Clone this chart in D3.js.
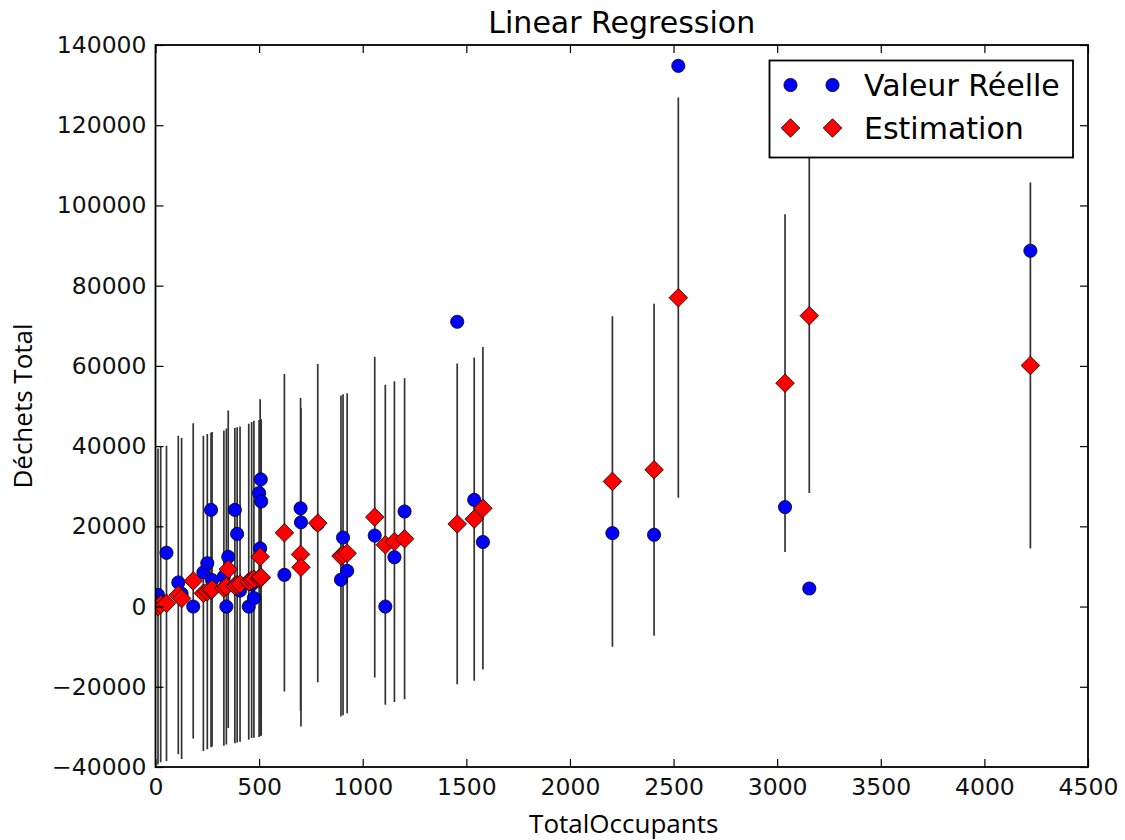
<!DOCTYPE html>
<html>
<head>
<meta charset="utf-8">
<script src="https://cdn.jsdelivr.net/npm/d3@7"></script>
<style>
  html, body { margin: 0; padding: 0; background: #fff; }
  svg { display: block; }
</style>
</head>
<body>
<svg id="chart" width="1125" height="840"></svg>
<script>
// ---- data ----
const occupants = [12, 25, 53, 110, 126, 182, 231, 250, 268, 273, 330, 342, 351, 383, 394, 408, 450, 464, 475, 500, 505, 508, 510,
  622, 700, 702, 783, 895, 905, 925, 1058, 1109, 1153, 1202, 1456, 1538, 1580, 2205, 2406, 2523, 3038, 3155, 4222];
const actual = [2900, 1200, 13400, 6000, 3200, 0, 8500, 10800, 24100, 6600, 7500, 0, 12400, 24100, 18100, 4000, 0, 5500, 2100, 28300, 14500, 31700, 26200,
  7900, 24500, 21000, 20600, 6700, 17200, 8900, 17700, 0, 12300, 23700, 71000, 26600, 16100, 18300, 17900, 134800, 24800, 4500, 88700];
const estimate = [0, 500, 800, 2900, 2000, 6400, 3300, 3700, 4100, 4300, 4600, 5000, 9300, 5200, 5400, 5600, 6200, 6600, 6800, 7000, 12400, 7100, 7300,
  18400, 13000, 9800, 20800, 12600, 12900, 13300, 22300, 15400, 16200, 16900, 20600, 21800, 24500, 31200, 34100, 77000, 55700, 72500, 60100];
const errHalf = [39400, 39300, 39300, 39700, 40000, 39300, 39300, 39300, 39200, 39200, 39300, 39400, 39600, 39300, 39300, 39300, 39400, 39400, 39500, 39500, 39300, 39400, 39400,
  39600, 39000, 39700, 39700, 40000, 40000, 39900, 40000, 39900, 40000, 40000, 40000, 40300, 40200, 41200, 41400, 49900, 42100, 44200, 45600];
const xTicks = [0, 500, 1000, 1500, 2000, 2500, 3000, 3500, 4000, 4500];
const yTicks = [-40000, -20000, 0, 20000, 40000, 60000, 80000, 100000, 120000, 140000];
const seriesNames = ["Valeur Réelle", "Estimation"];
const titleText = "Linear Regression";
const xLabel = "TotalOccupants";
const yLabel = "Déchets Total";

// ---- layout ----
const L = 155.5, R = 1088, T = 45, B = 767;
const svg = d3.select("#chart");
const x = d3.scaleLinear().domain([0, 4500]).range([L, R]);
const y = d3.scaleLinear().domain([-40000, 140000]).range([B, T]);

const data = occupants.map((o, i) => ({ o, a: actual[i], e: estimate[i], h: errHalf[i] }));

svg.append("rect").attr("x", L).attr("y", T).attr("width", R - L).attr("height", B - T).attr("fill", "#fff");

svg.append("defs").append("clipPath").attr("id", "clip")
  .append("rect").attr("x", L).attr("y", T).attr("width", R - L).attr("height", B - T);
const marks = svg.append("g").attr("clip-path", "url(#clip)");

// error bars
marks.append("g").selectAll("line").data(data).join("line")
  .attr("x1", d => x(d.o)).attr("x2", d => x(d.o))
  .attr("y1", d => y(d.e - d.h)).attr("y2", d => y(d.e + d.h))
  .attr("stroke", "#333").attr("stroke-width", 1.7);

// actual values (blue circles)
marks.append("g").selectAll("circle").data(data).join("circle")
  .attr("cx", d => x(d.o)).attr("cy", d => y(d.a)).attr("r", 6.6)
  .attr("fill", "#0000ff").attr("stroke", "#000").attr("stroke-width", 0.8);

// estimates (red diamonds)
const diamond = (cx, cy, s) => `M${cx},${cy - s}L${cx + s},${cy}L${cx},${cy + s}L${cx - s},${cy}Z`;
marks.append("g").selectAll("path").data(data).join("path")
  .attr("d", d => diamond(x(d.o), y(d.e), 9.3))
  .attr("fill", "#ff0000").attr("stroke", "#000").attr("stroke-width", 0.8);

// ---- axes ----
const tickFont = "DejaVu Sans, sans-serif";
const fmt = d3.format("d");
const gx = svg.append("g").attr("transform", `translate(0,${B})`)
  .call(d3.axisBottom(x).tickValues(xTicks).tickFormat(fmt).tickSizeInner(-8).tickSizeOuter(0).tickPadding(11));
const gy = svg.append("g").attr("transform", `translate(${L},0)`)
  .call(d3.axisLeft(y).tickValues(yTicks).tickFormat(fmt).tickSizeInner(-8).tickSizeOuter(0).tickPadding(9));
const gxt = svg.append("g").attr("transform", `translate(0,${T})`)
  .call(d3.axisTop(x).tickValues(xTicks).tickFormat("").tickSizeInner(-8).tickSizeOuter(0));
const gyr = svg.append("g").attr("transform", `translate(${R},0)`)
  .call(d3.axisRight(y).tickValues(yTicks).tickFormat("").tickSizeInner(-8).tickSizeOuter(0));
[gx, gy, gxt, gyr].forEach(g => {
  g.select(".domain").remove();
  g.selectAll(".tick line").attr("stroke", "#000").attr("stroke-width", 1.2);
  g.selectAll(".tick text").attr("font-family", tickFont).attr("font-size", 23.5).attr("fill", "#111");
});

// frame
svg.append("rect").attr("x", L).attr("y", T).attr("width", R - L).attr("height", B - T)
  .attr("fill", "none").attr("stroke", "#000").attr("stroke-width", 1.8);

// title and labels
svg.append("text").attr("x", (L + R) / 2).attr("y", 33).attr("text-anchor", "middle")
  .attr("font-family", tickFont).attr("font-size", 30).attr("fill", "#000").text(titleText);
svg.append("text").attr("x", (L + R) / 2 + 2).attr("y", 833).attr("text-anchor", "middle")
  .attr("font-family", "Open Sans, sans-serif").attr("font-size", 26).attr("fill", "#000").text(xLabel);
svg.append("text").attr("transform", `translate(32,${(T + B) / 2}) rotate(-90)`).attr("text-anchor", "middle")
  .attr("font-family", "Open Sans, sans-serif").attr("font-size", 26).attr("fill", "#000").text(yLabel);

// ---- legend ----
const lg = svg.append("g");
lg.append("rect").attr("x", 769.5).attr("y", 60.5).attr("width", 303.5).attr("height", 97)
  .attr("fill", "#fff").attr("stroke", "#000").attr("stroke-width", 1.8);
const rows = [85, 128];
rows.forEach((ry, i) => {
  [790.5, 832.5].forEach(mx => {
    if (i === 0) {
      lg.append("circle").attr("cx", mx).attr("cy", ry).attr("r", 6.6)
        .attr("fill", "#0000ff").attr("stroke", "#000").attr("stroke-width", 0.8);
    } else {
      lg.append("path").attr("d", diamond(mx, ry, 9.3))
        .attr("fill", "#ff0000").attr("stroke", "#000").attr("stroke-width", 0.8);
    }
  });
  lg.append("text").attr("x", 864).attr("y", ry).attr("dy", "0.36em")
    .attr("font-family", tickFont).attr("font-size", 30).attr("fill", "#000").text(seriesNames[i]);
});
</script>
</body>
</html>
